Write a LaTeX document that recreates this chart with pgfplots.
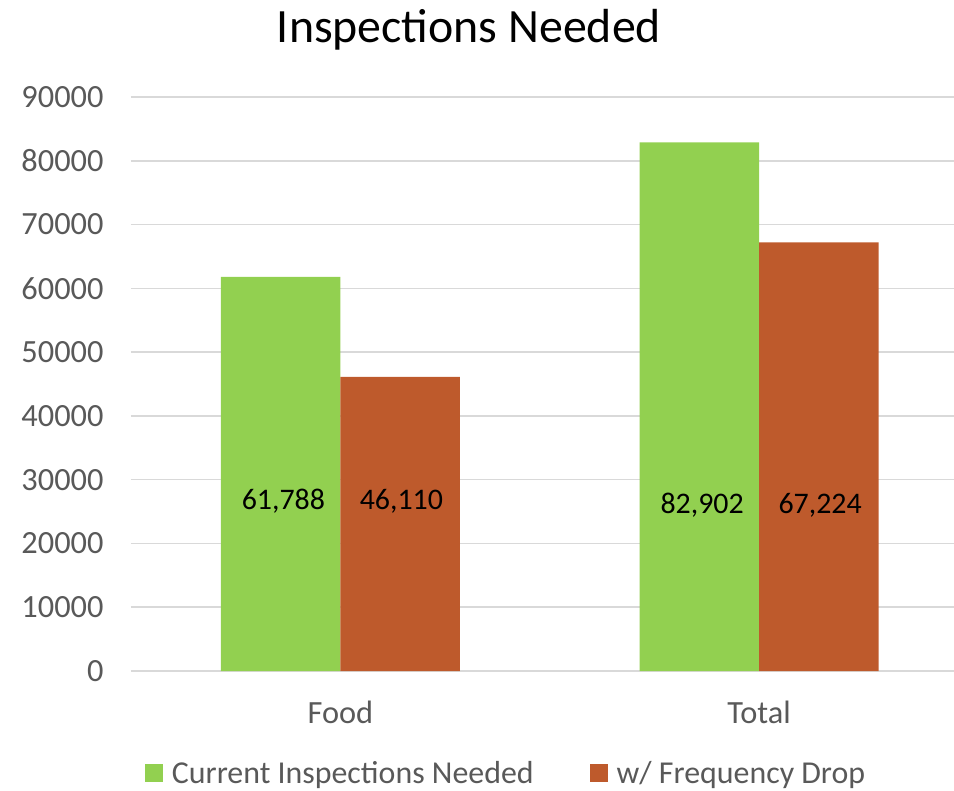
\documentclass[border=0pt]{standalone}
\usepackage{pgfplots}
\pgfplotsset{compat=1.18}
\usepackage{fontspec}
\setmainfont{Carlito}
\definecolor{cgreen}{HTML}{92D050}
\definecolor{corange}{HTML}{BE5A2C}
\definecolor{tickgray}{HTML}{595959}
\definecolor{gridgray}{HTML}{D9D9D9}
\begin{document}
\begin{tikzpicture}
\begin{axis}[
  scale only axis,
  width=823bp, height=574bp,
  at={(0,0)}, anchor=south west,
  ybar=0pt, bar width=119.5bp,
  xmin=-0.5, xmax=1.4654,
  ymin=0, ymax=90000,
  ytick={0,10000,...,90000},
  xtick={0,1}, xticklabels={Food,Total},
  /pgf/number format/assume math mode=true,
  scaled y ticks=false,
  yticklabel={\pgfmathprintnumber[fixed,use comma,1000 sep={}]{\tick}},
  axis line style={draw=none},
  tick style={draw=none},
  ymajorgrids, grid style={gridgray, line width=1.6bp},
  ticklabel style={font=\fontsize{32.5}{38}\selectfont, text=tickgray},
  yticklabel style={anchor=east, xshift=-24bp},
  xticklabel style={anchor=center, yshift=-37bp},
  legend columns=2,
  legend style={draw=none, fill=none, at={(axis description cs:0.4557,-0.1777)}, anchor=center,
    font=\fontsize{32}{38}\selectfont, text=tickgray,
    /tikz/every odd column/.append style={column sep=0bp},
    /tikz/every even column/.append style={column sep=54bp}},
  legend image code/.code={\fill[#1] (0bp,-9bp) rectangle (18bp,9bp); \path (25bp,0bp);},
]
\addplot[fill=cgreen, draw=none] coordinates {(0,61788) (1,82902)};
\addplot[fill=corange, draw=none] coordinates {(0,46110) (1,67224)};
\legend{Current Inspections Needed, w/ Frequency Drop}
\node[font=\fontsize{30}{36}\selectfont, text=black] at (axis cs:0,26600) [xshift=-57bp] {61,788};
\node[font=\fontsize{30}{36}\selectfont, text=black] at (axis cs:0,26600) [xshift=61bp] {46,110};
\node[font=\fontsize{30}{36}\selectfont, text=black] at (axis cs:1,26000) [xshift=-57bp] {82,902};
\node[font=\fontsize{30}{36}\selectfont, text=black] at (axis cs:1,26000) [xshift=61bp] {67,224};
\end{axis}
\node[font=\fontsize{48}{56}\selectfont, text=black] at (338bp,641bp) {Inspections Needed};
\pgfresetboundingbox
\useasboundingbox (-131bp,-120bp) rectangle (823bp,671bp);
\end{tikzpicture}
\end{document}
